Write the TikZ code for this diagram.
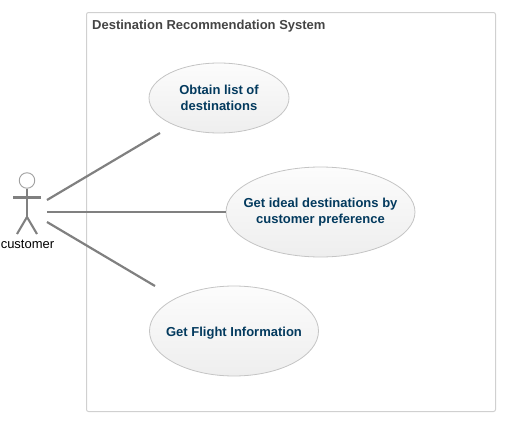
\documentclass[tikz,border=0pt]{standalone}
\usepackage{fontspec}
\setmainfont{Liberation Sans}
\usetikzlibrary{shapes.geometric}
\definecolor{boxline}{HTML}{D0D0D0}
\definecolor{titlecol}{HTML}{444444}
\definecolor{ucline}{HTML}{C4C4C4}
\definecolor{uctext}{HTML}{033A5E}
\definecolor{conn}{HTML}{808080}
\definecolor{uctop}{HTML}{FCFCFC}
\definecolor{ucbot}{HTML}{EEEEEE}
\tikzset{
  usecase/.style={ellipse,draw=ucline,line width=0.8pt,top color=uctop,bottom color=ucbot,
    inner xsep=-25pt,inner ysep=-5pt,outer sep=0pt,align=center,text=uctext,font=\fontsize{13}{16}\selectfont\bfseries},
  connector/.style={draw=conn,line width=2.2pt},
  actorline/.style={draw=conn,line width=2.1pt},
}
\begin{document}
\begin{tikzpicture}[x=1pt,y=-1pt]
\useasboundingbox (0,0) rectangle (512,431);
\draw[boxline,line width=1pt,rounded corners=2pt] (86.5,12.5) rectangle (495.5,411.5);
\node[anchor=west,inner sep=0pt,text=titlecol,font=\fontsize{13}{15}\selectfont\bfseries] (title) at (92,26) {Destination Recommendation System};
\node[usecase,minimum width=140pt,minimum height=70pt] (uc1) at (219,98) {Obtain list of\\destinations};
\node[usecase,minimum width=189pt,minimum height=90pt] (uc2) at (320.5,212) {Get ideal destinations by\\customer preference};
\node[usecase,minimum width=169pt,minimum height=90pt,text depth=0pt,yshift=0pt] (uc3) at (234,331) {\raisebox{-1pt}{Get Flight Information}};
% actor
\coordinate (hip) at (27,217);
\coordinate (armL) at (13,197.5);
\coordinate (armR) at (41,197.5);
\coordinate (legL) at (17,234);
\coordinate (legR) at (37,234);
\node[circle,draw=conn!75,line width=0.9pt,fill=white,minimum size=15.5pt,inner sep=0pt] (head) at (27,180.5) {};
\draw[actorline] (head.south) -- (hip);
\draw[actorline] (armL) -- (armR);
\draw[actorline] (legL) -- (hip) -- (legR);
\node[inner sep=0pt,font=\fontsize{13}{15}\selectfont] (actor) at (27.5,244) {customer};
% connectors
\coordinate (a1) at (47,200);
\coordinate (a2) at (47,212);
\coordinate (a3) at (47,222);
\coordinate (e1) at (160,133);
\coordinate (e3) at (155,286);
\draw[connector] (a1) -- (e1);
\draw[connector] (a2) -- (uc2.west);
\draw[connector] (a3) -- (e3);
\end{tikzpicture}
\end{document}
